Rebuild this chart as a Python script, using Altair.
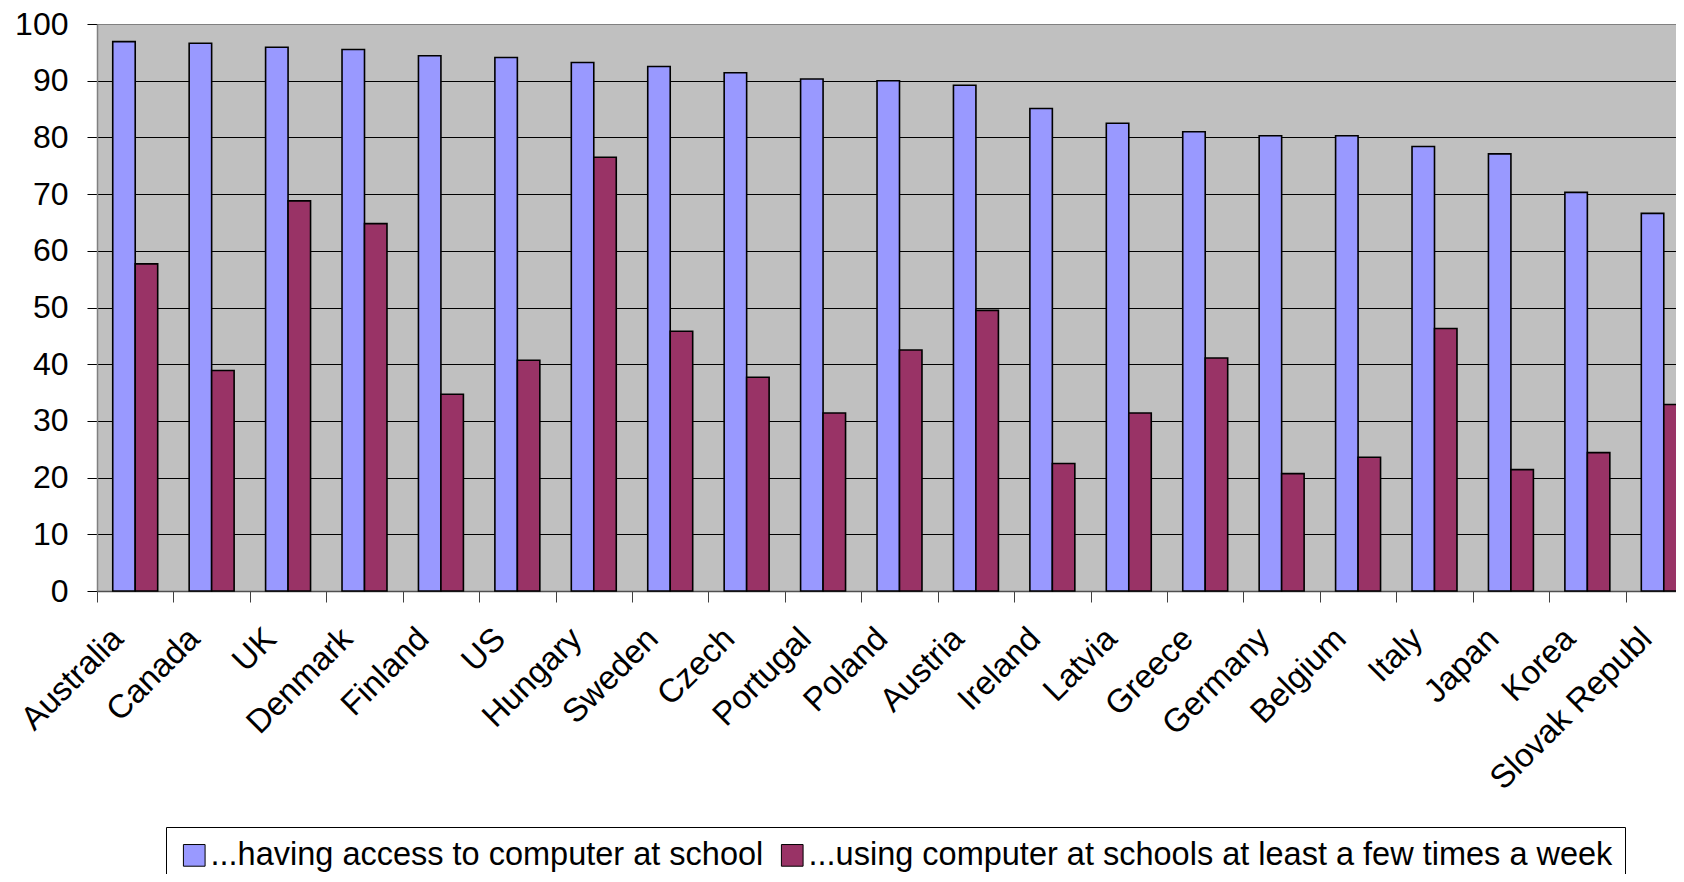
import altair as alt
import pandas as pd

countries = ["Australia", "Canada", "UK", "Denmark", "Finland", "US", "Hungary",
             "Sweden", "Czech", "Portugal", "Poland", "Austria", "Ireland", "Latvia",
             "Greece", "Germany", "Belgium", "Italy", "Japan", "Korea", "Slovak Republ"]
access = [96.9, 96.6, 95.9, 95.5, 94.4, 94.1, 93.2, 92.5, 91.4, 90.3, 90.0, 89.2,
          85.1, 82.5, 81.0, 80.3, 80.3, 78.4, 77.1, 70.3, 66.6]
using = [57.7, 38.9, 68.8, 64.8, 34.7, 40.7, 76.5, 45.8, 37.7, 31.4, 42.5, 49.5,
         22.5, 31.4, 41.1, 20.7, 23.6, 46.3, 21.4, 24.4, 32.9]
series = ["...having access to computer at school",
          "...using computer at schools at least a few times a week"]
colors = ["#9999FF", "#993366"]
y_ticks = [0, 10, 20, 30, 40, 50, 60, 70, 80, 90, 100]

rows = []
for c, a, u in zip(countries, access, using):
    rows.append({"country": c, "series": series[0], "value": a})
    rows.append({"country": c, "series": series[1], "value": u})
df = pd.DataFrame(rows)

W = 1579
H = 567

chart = alt.Chart(df).mark_bar(stroke="black", strokeWidth=1.6).encode(
    x=alt.X("country:N", sort=countries,
            scale=alt.Scale(range=[0, 1605], paddingInner=0, paddingOuter=0),
            axis=alt.Axis(title=None, labelAngle=-45, labelFontSize=33,
                          labelColor="black", labelLimit=1000,
                          tickBand="extent", tickSize=11, tickColor="#404040",
                          domainColor="#505050", domainWidth=1.5,
                          labelPadding=20, labelOffset=-29, grid=False)),
    xOffset=alt.XOffset("series:N", sort=series,
                        scale=alt.Scale(paddingInner=0, paddingOuter=0.7)),
    y=alt.Y("value:Q", scale=alt.Scale(domain=[0, 100], nice=False),
            axis=alt.Axis(title=None, values=y_ticks, labelFontSize=32,
                          labelColor="black", labelPadding=19, tickSize=10,
                          tickColor="black", domainColor="#808080", domainWidth=1.5,
                          grid=True, gridOpacity=1,
                          gridColor={"condition": {"test": "datum.value === 100", "value": "#808080"},
                                     "value": "black"},
                          gridWidth=1)),
    color=alt.Color("series:N", sort=series,
                    scale=alt.Scale(domain=series, range=colors),
                    legend=alt.Legend(orient="none", legendX=69, legendY=803,
                                      direction="horizontal", title=None,
                                      symbolType="square", symbolSize=470,
                                      symbolStrokeColor="black", symbolStrokeWidth=1,
                                      symbolOpacity=1,
                                      labelFontSize=32.5, labelColor="black",
                                      labelOffset=0, columnPadding=12, padding=12,
                                      strokeColor="black", fillColor="white",
                                      labelLimit=2000)),
).properties(
    width=W, height=H,
    autosize=alt.AutoSizeParams(type="none"),
    padding={"left": 89, "top": 16, "right": 0, "bottom": 283},
).configure(
    font="Liberation Sans",
).configure_view(
    fill="#C0C0C0", stroke=None,
)

chart.save("out.html", embed_options={"renderer": "svg", "actions": False})
